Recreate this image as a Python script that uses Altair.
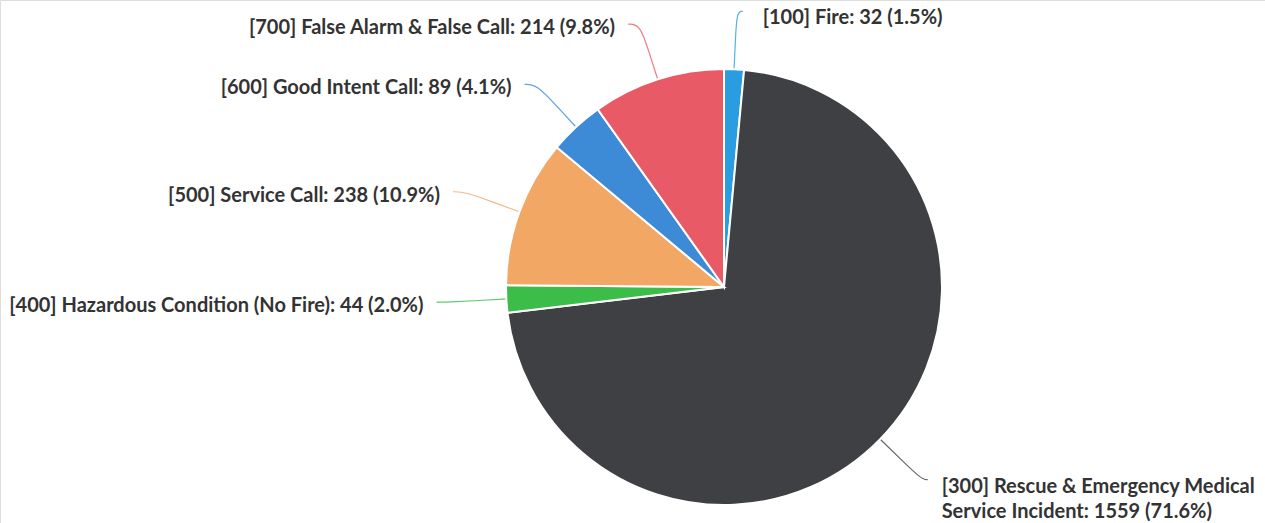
import math
import altair as alt
import pandas as pd

categories = [
    "[100] Fire",
    "[300] Rescue & Emergency Medical Service Incident",
    "[400] Hazardous Condition (No Fire)",
    "[500] Service Call",
    "[600] Good Intent Call",
    "[700] False Alarm & False Call",
]
counts = [32, 1559, 44, 238, 89, 214]
percents = ["1.5%", "71.6%", "2.0%", "10.9%", "4.1%", "9.8%"]
label_texts = [
    "[100] Fire: 32 (1.5%)",
    "[300] Rescue & Emergency Medical\nService Incident: 1559 (71.6%)",
    "[400] Hazardous Condition (No Fire): 44 (2.0%)",
    "[500] Service Call: 238 (10.9%)",
    "[600] Good Intent Call: 89 (4.1%)",
    "[700] False Alarm & False Call: 214 (9.8%)",
]
colors = ["#2a9de0", "#3e4043", "#3cbd4a", "#f2a765", "#3d8bd6", "#e85a66"]

W, H = 1265, 523
CX, CY = 724, 287
R = 218
RL = 276

total = sum(counts)
df = pd.DataFrame({
    "category": categories,
    "count": counts,
    "idx": list(range(len(categories))),
})
# side of each label, derived from the slice mid-angle
sides = []
cum = 0
line_rows = []
for i, (c, v) in enumerate(zip(categories, counts)):
    mid = (cum + v / 2) / total * 2 * math.pi
    cum += v
    side = 1 if math.sin(mid) >= 0 else -1
    sides.append(side)
    pts = []
    for r in (R - 2, R + 28, RL):
        pts.append((CX + r * math.sin(mid), CY - r * math.cos(mid)))
    tail = 6 if side > 0 else 12
    pts.append((pts[-1][0] + side * tail, pts[-1][1]))
    for k, (x, y) in enumerate(pts):
        line_rows.append({"category": c, "k": k, "px": x, "py": y})
lines_df = pd.DataFrame(line_rows)

df["lab_right"] = [t if s > 0 and "\n" not in t else "" for t, s in zip(label_texts, sides)]
df["lab_multi"] = [t if "\n" in t else "" for t in label_texts]
df["lab_left"] = [t if s < 0 else "" for t, s in zip(label_texts, sides)]

color_scale = alt.Scale(domain=categories, range=colors)

base = alt.Chart(df).encode(
    theta=alt.Theta("count:Q", stack=True),
    order=alt.Order("idx:Q"),
    x=alt.value(CX),
    y=alt.value(CY),
)

pie = base.mark_arc(outerRadius=R, stroke="white", strokeWidth=2).encode(
    color=alt.Color("category:N", scale=color_scale, legend=None)
)

font = dict(font="Lato", fontSize=20, fontWeight="bold", color="#333333")

txt_right = base.mark_text(radius=RL, align="left", baseline="middle", dx=26, dy=7, **font).encode(
    text="lab_right:N"
)
txt_multi = base.mark_text(radius=RL, align="left", baseline="top", dx=20, dy=-3,
                           lineBreak="\n", lineHeight=25, **font).encode(
    text="lab_multi:N"
)
txt_left = base.mark_text(radius=RL, align="right", baseline="middle", dx=-25, dy=4, **font).encode(
    text="lab_left:N"
)

leaders = alt.Chart(lines_df).mark_line(interpolate="basis", strokeWidth=1.2, opacity=0.8).encode(
    x=alt.X("px:Q", scale=None),
    y=alt.Y("py:Q", scale=None),
    detail="category:N",
    order="k:Q",
    color=alt.Color("category:N", scale=color_scale, legend=None),
)

chart = alt.layer(leaders, pie, txt_right, txt_multi, txt_left).properties(
    width=W, height=H, padding=0, autosize=alt.AutoSizeParams(type="none")
).configure_view(stroke=None).configure(background="white")

chart.save("out.html", embed_options={"renderer": "svg", "actions": False})
